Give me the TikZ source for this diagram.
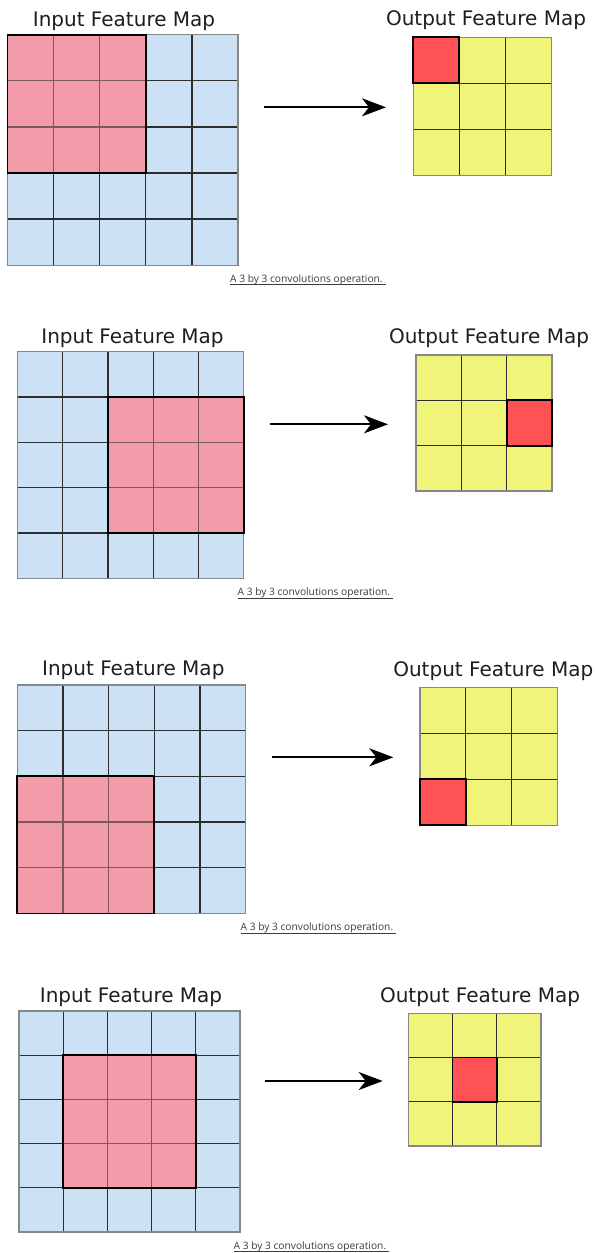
\documentclass[tikz,border=0pt]{standalone}
\usepackage{fontspec}
\setmainfont{DejaVu Sans}
\newfontfamily\capfont{Open Sans}
\usetikzlibrary{arrows.meta}
\definecolor{cellblue}{RGB}{204,226,244}
\definecolor{cellpink}{RGB}{241,156,168}
\definecolor{cellyellow}{RGB}{240,245,122}
\definecolor{cellred}{RGB}{255,82,85}
\definecolor{gridline}{RGB}{45,45,45}
\definecolor{gridedge}{RGB}{135,135,135}
\definecolor{titlecol}{RGB}{30,30,30}
\definecolor{capcol}{RGB}{60,60,60}
\tikzset{
  inner line/.style={draw=gridline, line width=1.3pt},
  edge line/.style={draw=gridedge, line width=1.2pt},
  window/.style={draw=black, line width=1.9pt},
  title/.style={anchor=base, font=\fontsize{20}{24}\selectfont, text=titlecol, inner sep=0pt},
  caption/.style={anchor=base west, font=\capfont\fontsize{10.2}{12}\selectfont, text=capcol, inner sep=0pt},
  capline/.style={draw=capcol, line width=0.8pt},
  flow/.style={line width=2pt, -{Stealth[length=24pt,width=18pt,inset=7pt]}},
}
% input grid: x0, y0, cell, highlight column, highlight row
\newcommand\ingrid[5]{%
  \begin{scope}[shift={(#1,#2)}]
    \fill[cellblue] (0,0) rectangle ({5*#3},{5*#3});
    \fill[cellpink] ({#4*#3},{#5*#3}) rectangle ({(#4+3)*#3},{(#5+3)*#3});
    \foreach \k in {1,...,4}{
      \draw[inner line] ({\k*#3},0) -- ({\k*#3},{5*#3});
      \draw[inner line] (0,{\k*#3}) -- ({5*#3},{\k*#3});
    }
    \fill[cellpink, opacity=0.4] ({#4*#3},{#5*#3}) rectangle ({(#4+3)*#3},{(#5+3)*#3});
    \draw[edge line] (0,0) rectangle ({5*#3},{5*#3});
    \draw[window] ({#4*#3},{#5*#3}) rectangle ({(#4+3)*#3},{(#5+3)*#3});
  \end{scope}}
% output grid: x0, y0, cell, highlight column, highlight row
\newcommand\outgrid[5]{%
  \begin{scope}[shift={(#1,#2)}]
    \fill[cellyellow] (0,0) rectangle ({3*#3},{3*#3});
    \fill[cellred] ({#4*#3},{#5*#3}) rectangle ({(#4+1)*#3},{(#5+1)*#3});
    \foreach \k in {1,2}{
      \draw[inner line] ({\k*#3},0) -- ({\k*#3},{3*#3});
      \draw[inner line] (0,{\k*#3}) -- ({3*#3},{\k*#3});
    }
    \draw[edge line] (0,0) rectangle ({3*#3},{3*#3});
    \draw[window] ({#4*#3},{#5*#3}) rectangle ({(#4+1)*#3},{(#5+1)*#3});
  \end{scope}}
% caption with underline: name, x, y
\newcommand\capt[3]{%
  \node[caption] (#1) at (#2,#3) {A 3 by 3 convolutions operation.};
  \draw[capline] ([yshift=-2.6pt]#1.base west) -- ([xshift=3pt,yshift=-2.6pt]#1.base east);}
\begin{document}
\begin{tikzpicture}[x=1pt, y=-1pt]
  \useasboundingbox[fill=white] (0,0) rectangle (595,1253);

  % ---------- panel 1 ----------
  \node[title] (in1) at (124,26) {Input Feature Map};
  \node[title] (out1) at (486,25.7) {Output Feature Map};
  \ingrid{7.5}{34.7}{46.1}{0}{0}
  \outgrid{413.3}{37.3}{46.1}{0}{0}
  \coordinate (a1s) at (264,107.3);
  \coordinate (a1e) at (386,107.3);
  \draw[flow] (a1s) -- (a1e);
  \capt{cap1}{230}{282}

  % ---------- panel 2 ----------
  \node[title] (in2) at (132.5,343.3) {Input Feature Map};
  \node[title] (out2) at (489,343.3) {Output Feature Map};
  \ingrid{17.3}{351.7}{45.3}{2}{1}
  \outgrid{416}{355}{45.3}{2}{1}
  \coordinate (a2s) at (270,424.3);
  \coordinate (a2e) at (388,424.3);
  \draw[flow] (a2s) -- (a2e);
  \capt{cap2}{237.5}{595.5}

  % ---------- panel 3 ----------
  \node[title] (in3) at (133.3,675.7) {Input Feature Map};
  \node[title] (out3) at (493.3,676) {Output Feature Map};
  \ingrid{17.3}{685}{45.7}{0}{2}
  \outgrid{420}{687.7}{45.8}{0}{2}
  \coordinate (a3s) at (272,757.3);
  \coordinate (a3e) at (393.3,757.3);
  \draw[flow] (a3s) -- (a3e);
  \capt{cap3}{240.5}{930.5}

  % ---------- panel 4 ----------
  \node[title] (in4) at (131,1002.3) {Input Feature Map};
  \node[title] (out4) at (480,1002.3) {Output Feature Map};
  \ingrid{19}{1011}{44.2}{1}{1}
  \outgrid{408.3}{1013.3}{44.2}{1}{1}
  \coordinate (a4s) at (265,1081);
  \coordinate (a4e) at (382.7,1081);
  \draw[flow] (a4s) -- (a4e);
  \capt{cap4}{233.5}{1249}
\end{tikzpicture}
\end{document}
